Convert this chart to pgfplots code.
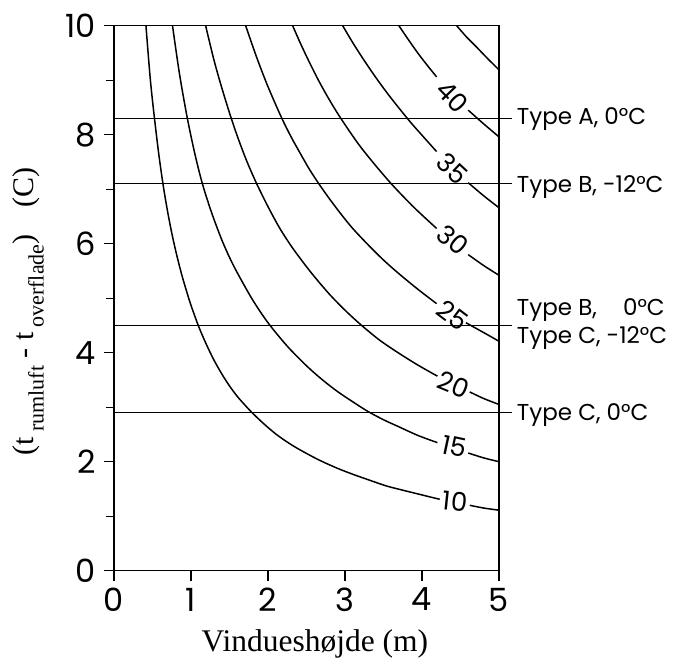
\documentclass[border=0pt]{standalone}
\usepackage{pgfplots}
\pgfplotsset{compat=1.18}
\usepackage{fontspec}
\setmainfont{Liberation Serif}
\newfontfamily\gothic{Poppins}
\begin{document}
\begin{tikzpicture}[crv/.style={black, solid, mark=none, line width=1.5pt, smooth}]
\useasboundingbox (-114pt,-87.3pt) rectangle (560pt,570.7pt);
\begin{axis}[
  at={(0pt,0pt)}, anchor=south west,
  scale only axis, width=385pt, height=545pt,
  xmin=0, xmax=5, ymin=0, ymax=10,
  xtick={0,1,2,3,4,5}, ytick={0,2,4,6,8,10}, minor ytick={1,3,5,7,9},
  tick align=outside, tick pos=left,
  major tick length=10pt, minor tick length=8pt,
  axis line style={line width=1.3pt},
  every tick/.style={line width=1.2pt, black},
  /pgf/number format/assume math mode=true,
  ticklabel style={font=\gothic\fontsize{32}{32}\selectfont},
  xticklabel style={anchor=north, inner sep=0pt, yshift=-7pt},
  yticklabel style={anchor=east, inner sep=0pt, xshift=-8pt},
  clip=false,
]
% reference lines
\addplot[black, solid, mark=none, line width=1.1pt] coordinates {(0,8.3) (5.17,8.3)};
\addplot[black, solid, mark=none, line width=1.1pt] coordinates {(0,7.1) (5.17,7.1)};
\addplot[black, solid, mark=none, line width=1.1pt] coordinates {(0,4.5) (5.17,4.5)};
\addplot[black, solid, mark=none, line width=1.1pt] coordinates {(0,2.9) (5.17,2.9)};
% curve 10
\addplot[crv] coordinates {(0.415,10.0) (0.47,9.04) (0.52,8.37) (0.58,7.66) (0.64,7.06) (0.70,6.56) (0.76,6.13) (0.82,5.76) (0.88,5.43) (0.94,5.14) (1.0,4.87) (1.1,4.48) (1.2,4.15) (1.3,3.86) (1.4,3.61) (1.5,3.39) (1.6,3.20) (1.7,3.04) (1.8,2.89) (1.95,2.69) (2.1,2.51) (2.25,2.36) (2.4,2.23) (2.65,2.04) (2.9,1.88) (3.1,1.77) (3.3,1.67) (3.55,1.55) (3.8,1.46) (4.0,1.39) (4.23,1.31)};
\addplot[crv] coordinates {(4.62,1.20) (4.8,1.15) (5,1.11)};
% curve 15
\addplot[crv] coordinates {(0.76,10.0) (0.85,9.12) (0.95,8.32) (1.05,7.65) (1.15,7.09) (1.27,6.56) (1.4,6.07) (1.5,5.75) (1.6,5.47) (1.8,4.97) (2.0,4.55) (2.25,4.12) (2.5,3.76) (2.7,3.51) (2.9,3.29) (3.1,3.10) (3.3,2.92) (3.5,2.77) (3.7,2.64) (3.95,2.48) (4.2,2.35)};
\addplot[crv] coordinates {(4.6,2.16) (4.8,2.07) (5,2.0)};
% curve 20
\addplot[crv] coordinates {(1.19,10.0) (1.3,9.36) (1.4,8.86) (1.5,8.40) (1.6,7.98) (1.72,7.53) (1.85,7.11) (2.0,6.68) (2.15,6.29) (2.3,5.96) (2.45,5.67) (2.6,5.40) (2.8,5.07) (3.0,4.78) (3.2,4.52) (3.45,4.23) (3.7,3.99) (3.95,3.77) (4.2,3.57)};
\addplot[crv] coordinates {(4.62,3.28) (4.8,3.16) (5,3.05)};
% curve 25
\addplot[crv] coordinates {(1.71,10.0) (1.85,9.43) (2.0,8.88) (2.18,8.30) (2.3,7.96) (2.41,7.68) (2.54,7.36) (2.67,7.08) (2.8,6.82) (2.95,6.54) (3.1,6.28) (3.3,5.98) (3.5,5.70) (3.7,5.45) (3.95,5.16) (4.19,4.90)};
\addplot[crv] coordinates {(4.57,4.55) (4.8,4.37) (5,4.21)};
% curve 30
\addplot[crv] coordinates {(2.32,10.0) (2.42,9.68) (2.52,9.38) (2.64,9.04) (2.76,8.73) (2.9,8.40) (3.05,8.08) (3.2,7.78) (3.4,7.43) (3.62,7.07) (3.9,6.66) (4.19,6.28)};
\addplot[crv] coordinates {(4.6,5.80) (4.8,5.60) (5,5.42)};
% curve 35
\addplot[crv] coordinates {(2.97,10.0) (3.1,9.69) (3.25,9.36) (3.4,9.05) (3.55,8.76) (3.7,8.49) (3.85,8.23) (4.0,7.99) (4.19,7.69)};
\addplot[crv] coordinates {(4.6,7.12) (4.8,6.88) (5,6.66)};
% curve 40
\addplot[crv] coordinates {(3.70,10.0) (3.82,9.75) (3.95,9.49) (4.07,9.27) (4.19,9.06)};
\addplot[crv] coordinates {(4.6,8.45) (4.8,8.20) (5,7.96)};
% curve 45
\addplot[crv] coordinates {(4.45,10.0) (4.58,9.79) (4.7,9.62) (4.85,9.40) (5,9.19)};
% curve labels
\begin{scope}[every node/.style={font=\gothic\fontsize{26}{26}\selectfont, inner sep=0pt}]
\node[rotate=-46] at (axis cs:4.40,8.70) {40};
\node[rotate=-43] at (axis cs:4.40,7.38) {35};
\node[rotate=-40] at (axis cs:4.40,6.07) {30};
\node[rotate=-37] at (axis cs:4.40,4.69) {25};
\node[rotate=-22] at (axis cs:4.41,3.41) {20};
\node[rotate=-12] at (axis cs:4.42,2.28) {15};
\node[rotate=-6] at (axis cs:4.43,1.27) {10};
\end{scope}
% right labels
\begin{scope}[every node/.style={font=\gothic\fontsize{23}{23}\selectfont, inner sep=0pt, anchor=base west}]
\node at (axis cs:5.23,8.18) {Type A, 0°C};
\node at (axis cs:5.23,6.94) {Type B, -12°C};
\node at (axis cs:5.23,4.69) {Type B, \phantom{-1}0°C};
\node at (axis cs:5.23,4.17) {Type C, -12°C};
\node at (axis cs:5.23,2.75) {Type C, 0°C};
\end{scope}
% axis labels
\node[font=\fontsize{31.5}{31.5}\selectfont, anchor=base, inner sep=0pt] at ([yshift=-80.5pt]axis cs:2.61,0) {Vindueshøjde (m)};
\node[font=\fontsize{30}{30}\selectfont, rotate=90, inner sep=0pt] at ([xshift=-86pt]axis cs:0,4.76) {(t\,\raisebox{-0.35em}{\fontsize{22}{22}\selectfont rumluft} - t\,\raisebox{-0.35em}{\fontsize{22}{22}\selectfont overflade})\hspace{0.9em}(C)};
\end{axis}
\end{tikzpicture}
\end{document}
